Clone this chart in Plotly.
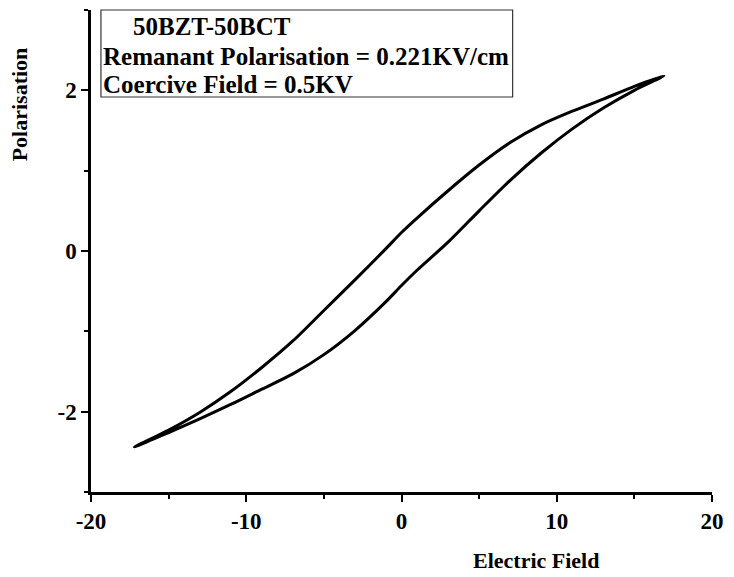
import plotly.graph_objects as go

# Upper branch (field decreasing from +Emax to -Emax)
E_up = [16.9, 15.0, 13.0, 11.0, 9.0, 7.0, 5.0, 3.0, 1.0, 0.0, -1.0, -3.0, -5.0, -7.0, -9.0, -11.0, -13.0, -15.0, -17.2]
P_up = [2.18, 2.05, 1.89, 1.74, 1.57, 1.35, 1.07, 0.75, 0.41, 0.23, 0.03, -0.36, -0.74, -1.12, -1.45, -1.75, -2.01, -2.23, -2.44]
# Lower branch (field increasing from -Emax to +Emax)
E_lo = [-17.2, -15.0, -13.0, -11.0, -9.0, -7.0, -5.0, -3.0, -1.0, 0.0, 1.0, 3.0, 5.0, 7.0, 9.0, 11.0, 13.0, 15.0, 16.9]
P_lo = [-2.44, -2.26, -2.09, -1.91, -1.72, -1.53, -1.29, -0.99, -0.63, -0.43, -0.24, 0.11, 0.50, 0.88, 1.22, 1.52, 1.78, 2.00, 2.18]

x_ticks = [-20, -10, 0, 10, 20]
y_ticks = [-2, 0, 2]

E = E_up + E_lo[1:]
P = P_up + P_lo[1:]

fig = go.Figure()
fig.add_trace(go.Scatter(x=E, y=P, mode="lines",
                         line=dict(color="black", width=3, shape="spline", smoothing=0.8),
                         showlegend=False, hoverinfo="skip"))

tickfont = dict(family="Liberation Serif", size=23, color="black", weight="bold")
axis_common = dict(showgrid=False, zeroline=False, showline=True, linecolor="black", linewidth=2.5,
                   ticks="outside", ticklen=7, tickwidth=2, tickcolor="black", tickfont=tickfont)
fig.update_layout(
    xaxis=dict(range=[-20, 20], tickmode="array", tickvals=x_ticks, ticktext=[str(v) for v in x_ticks],
               minor=dict(tickvals=[-15, -5, 5, 15], ticks="outside", ticklen=4, tickwidth=2, tickcolor="black"),
               **axis_common),
    yaxis=dict(range=[-3, 3], tickmode="array", tickvals=y_ticks, ticktext=[str(v) for v in y_ticks],
               minor=dict(tickvals=[-3, -1, 1, 3], ticks="outside", ticklen=4, tickwidth=2, tickcolor="black"),
               **axis_common),
)

boldfont = dict(family="Liberation Serif", size=25, color="black")
fig.add_shape(type="rect", xref="paper", yref="paper", x0=0.016, x1=0.679, y0=0.8195, y1=1.0,
              line=dict(color="#333", width=1.2), fillcolor="white", layer="below")
fig.add_annotation(xref="paper", yref="paper", x=0.064, y=0.965, xanchor="left", yanchor="middle",
                   text="<b>50BZT-50BCT</b>", showarrow=False, font=boldfont)
fig.add_annotation(xref="paper", yref="paper", x=0.016, y=0.903, xanchor="left", yanchor="middle",
                   text="<b>Remanant Polarisation = 0.221KV/cm</b>", showarrow=False, font=boldfont)
fig.add_annotation(xref="paper", yref="paper", x=0.016, y=0.845, xanchor="left", yanchor="middle",
                   text="<b>Coercive Field = 0.5KV</b>", showarrow=False, font=boldfont)

titlefont = dict(family="Liberation Serif", size=22, color="black")
fig.add_annotation(xref="paper", yref="paper", x=(538 - 91) / 624, y=(492 - 560) / 482,
                   xanchor="center", yanchor="middle", text="<b>Electric Field</b>",
                   showarrow=False, font=titlefont)
fig.add_annotation(xref="paper", yref="paper", x=(20 - 91) / 624, y=(492 - 104) / 482,
                   xanchor="center", yanchor="middle", text="<b>Polarisation</b>", textangle=-90,
                   showarrow=False, font=titlefont)

fig.update_layout(width=734, height=577, margin=dict(l=91, r=19, t=10, b=85),
                  font=dict(family="Liberation Serif", color="black"),
                  plot_bgcolor="white", paper_bgcolor="white")
fig.write_html("out.html")
